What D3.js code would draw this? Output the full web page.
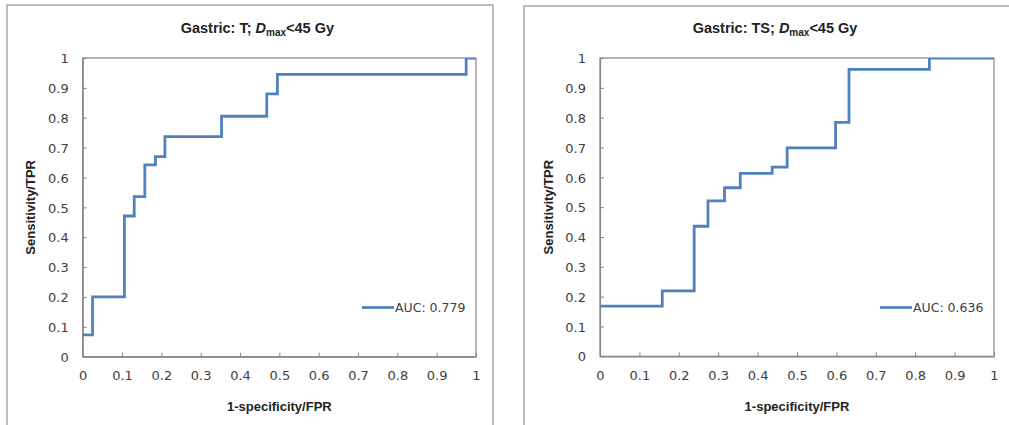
<!DOCTYPE html>
<html>
  <head>
    <meta http-equiv="Content-Type" content="text/html;charset=utf-8"/>
    <title>ROC curves</title>
    <script src="https://d3js.org/d3.v7.min.js"></script>
  </head>
  <body style="margin:0;background:#fff">

    <style>
    text {
    font-family: "DejaVu Sans", Verdana, sans-serif;
    fill: #404040;
    }
    .bold {
    font-family: "Liberation Sans", Arial, sans-serif;
    font-weight: bold;
    fill: #222;
    }
    </style>
    <script type="text/javascript">
        // left panel: Gastric T
        const tFpr = [0, 0.025, 0.106, 0.131, 0.158, 0.185, 0.209, 0.353, 0.468, 0.495, 0.975, 1]
        const tTpr = [0.073, 0.2, 0.471, 0.536, 0.642, 0.67, 0.737, 0.805, 0.88, 0.945, 1, 1]
        // right panel: Gastric TS
        const tsFpr = [0, 0.158, 0.239, 0.274, 0.316, 0.356, 0.437, 0.475, 0.598, 0.632, 0.836, 1]
        const tsTpr = [0.168, 0.219, 0.436, 0.521, 0.565, 0.613, 0.634, 0.699, 0.784, 0.962, 1, 1]

        const tickValues = [0, 0.1, 0.2, 0.3, 0.4, 0.5, 0.6, 0.7, 0.8, 0.9, 1]
        const organs = ['T', 'TS']
        const aucs = ['0.779', '0.636']

        const width = 1009,
              height = 425

        const svg = d3.select("body").append("svg")
            .attr("width", width)
            .attr("height", height)

        const panels = [
            { organ: organs[0], auc: aucs[0], fpr: tFpr, tpr: tTpr,
              box: [7, 5, 486], plot: [82.7, 476, 58, 356.7], ytitle: 30, legend: 362 },
            { organ: organs[1], auc: aucs[1], fpr: tsFpr, tpr: tsTpr,
              box: [524, 6, 520], plot: [600, 994, 58, 356.3], ytitle: 548, legend: 880 }
        ]

        panels.forEach((p, i) => {
            // panel frame (open at bottom / right like the crop)
            svg.append('rect')
                .attr('x', p.box[0]).attr('y', p.box[1])
                .attr('width', p.box[2]).attr('height', 440)
                .attr('fill', 'none')
                .attr('stroke', '#a6a6a6')
                .attr('stroke-width', 1.5)

            const x = d3.scaleLinear().domain([0, 1]).range([p.plot[0], p.plot[1]])
            const y = d3.scaleLinear().domain([0, 1]).range([p.plot[3], p.plot[2]])

            // plot area border
            svg.append('rect')
                .attr('x', x(0)).attr('y', y(1))
                .attr('width', x(1) - x(0)).attr('height', y(0) - y(1))
                .attr('fill', 'none')
                .attr('stroke', '#868686')
                .attr('stroke-width', 1.2)

            const xAxis = svg.append('g')
                .attr('transform', 'translate(0,' + y(0) + ')')
                .call(d3.axisBottom(x).tickValues(tickValues).tickSizeInner(-4).tickSizeOuter(0)
                    .tickPadding(14).tickFormat(d3.format('')))
            const yAxis = svg.append('g')
                .attr('transform', 'translate(' + x(0) + ',0)')
                .call(d3.axisLeft(y).tickValues(tickValues).tickSizeInner(-4).tickSizeOuter(0)
                    .tickPadding(14).tickFormat(d3.format('')))

            ;[xAxis, yAxis].forEach(a => {
                a.attr('font-size', null).attr('font-family', null)
                a.select('.domain').attr('stroke', '#868686').attr('stroke-width', 1.2)
                a.selectAll('.tick line').attr('stroke', '#868686')
                a.selectAll('.tick text')
                    .attr('font-size', 13)
                    .style('font-size', '13px')
                    .attr('fill', '#404040')
            })
            yAxis.selectAll('.tick text').attr('dy', '0.36em')

            // clip so the curve is cut at the plot border
            svg.append('clipPath').attr('id', 'clip' + i)
                .append('rect')
                .attr('x', x(0)).attr('y', y(1))
                .attr('width', x(1) - x(0)).attr('height', y(0) - y(1))

            const pts = p.fpr.map((f, k) => [f, p.tpr[k]])
            const line = d3.line()
                .x(d => x(d[0]))
                .y(d => y(d[1]))
                .curve(d3.curveStepAfter)

            svg.append('path')
                .attr('clip-path', 'url(#clip' + i + ')')
                .attr('d', line(pts))
                .attr('fill', 'none')
                .attr('stroke', '#4f81bd')
                .attr('stroke-width', 2.8)

            // title
            const title = svg.append('text')
                .attr('class', 'bold')
                .attr('x', (p.plot[0] + p.plot[1]) / 2 - 22)
                .attr('y', 33)
                .attr('text-anchor', 'middle')
                .style('font-size', '14.5px')
            title.append('tspan').text('Gastric: ' + p.organ + '; ')
            title.append('tspan').style('font-style', 'italic').text('D')
            title.append('tspan').attr('dy', 3).style('font-size', '10px').text('max')
            title.append('tspan').attr('dy', -3).text('<45 Gy')

            // axis titles
            svg.append('text')
                .attr('class', 'bold')
                .attr('x', (p.plot[0] + p.plot[1]) / 2)
                .attr('y', 411)
                .attr('text-anchor', 'middle')
                .style('font-size', '13px')
                .text('1-specificity/FPR')

            svg.append('text')
                .attr('class', 'bold')
                .attr('transform', 'translate(' + (p.ytitle + 5) + ',' + (y(0.5)) + ') rotate(-90)')
                .attr('text-anchor', 'middle')
                .style('font-size', '13px')
                .text('Sensitivity/TPR')

            // legend
            svg.append('line')
                .attr('x1', p.legend).attr('x2', p.legend + 32)
                .attr('y1', 307.5).attr('y2', 307.5)
                .attr('stroke', '#4f81bd')
                .attr('stroke-width', 2.8)
            svg.append('text')
                .attr('x', p.legend + 33)
                .attr('y', 312)
                .style('font-size', '12.5px')
                .text('AUC: ' + p.auc)
        })
    </script>

  </body>
</html>
